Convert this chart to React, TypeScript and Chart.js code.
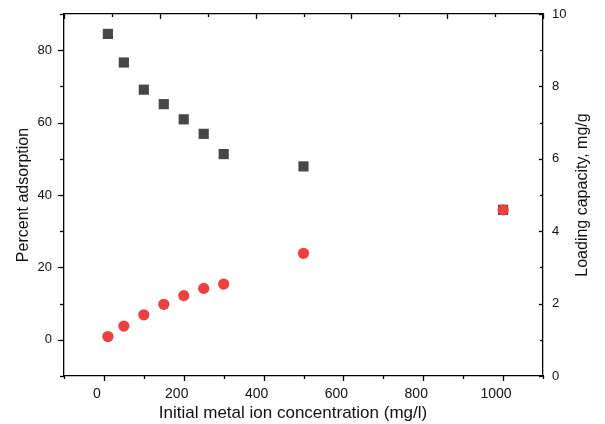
import React, { useEffect, useRef } from 'react';
import { Chart, registerables } from 'chart.js';

Chart.register(...registerables);

const concentration = [10, 50, 100, 150, 200, 250, 300, 500, 1000];
const percentAdsorption = [84.5, 76.6, 69.1, 65.1, 60.9, 56.9, 51.3, 47.9, 35.9];
const loadingCapacity = [1.09, 1.38, 1.69, 1.98, 2.22, 2.42, 2.54, 3.39, 4.59];

const xMajorTicks = [0, 200, 400, 600, 800, 1000];
const xMinorTicks = [-100, 100, 300, 500, 700, 900, 1100];
const yLeftMajorTicks = [0, 20, 40, 60, 80];
const yLeftMinorTicks = [-10, 10, 30, 50, 70, 90];
const yRightMajorTicks = [0, 2, 4, 6, 8, 10];
const yRightMinorTicks = [1, 3, 5, 7, 9];
const topMajorTicks = [0, 2, 4, 6, 8, 10];
const topMinorTicks = [1, 3, 5, 7, 9];

const xTitle = 'Initial metal ion concentration (mg/l)';
const yLeftTitle = 'Percent adsorption';
const yRightTitle = 'Loading capacity, mg/g';

const FONT = '"Liberation Sans", Arial, sans-serif';
const TEXT = '#111';

const ticksPlugin = {
  id: 'originTicks',
  afterDraw(chart: any) {
    const ctx = chart.ctx;
    const { left, right, top, bottom } = chart.chartArea;
    const sx = chart.scales.x;
    const sx2 = chart.scales.x2;
    const sy = chart.scales.y;
    const sy1 = chart.scales.y1;
    ctx.save();
    ctx.strokeStyle = '#000';
    ctx.lineWidth = 1.3;
    const vt = (scale: any, vals: number[], y0: number, len: number) => {
      vals.forEach((v) => {
        const px = Math.round(scale.getPixelForValue(v)) + 0.5;
        ctx.beginPath();
        ctx.moveTo(px, y0);
        ctx.lineTo(px, y0 + len);
        ctx.stroke();
      });
    };
    const ht = (scale: any, vals: number[], x0: number, len: number) => {
      vals.forEach((v) => {
        const py = Math.round(scale.getPixelForValue(v)) + 0.5;
        ctx.beginPath();
        ctx.moveTo(x0, py);
        ctx.lineTo(x0 + len, py);
        ctx.stroke();
      });
    };
    vt(sx, xMajorTicks, bottom, 5);
    vt(sx, xMinorTicks, bottom, 3);
    vt(sx2, topMajorTicks, top, 5);
    vt(sx2, topMinorTicks, top, 3);
    ht(sy, yLeftMajorTicks, left, -6);
    ht(sy, yLeftMinorTicks, left, -4);
    ht(sy1, yRightMajorTicks, right, -4);
    ht(sy1, yRightMinorTicks, right, -3);

    ctx.fillStyle = TEXT;
    ctx.textAlign = 'center';
    ctx.textBaseline = 'middle';
    ctx.font = `17px ${FONT}`;
    ctx.fillText(xTitle, 293, 413);

    ctx.translate(583, (top + bottom) / 2);
    ctx.rotate(-Math.PI / 2);
    ctx.font = `16px ${FONT}`;
    ctx.fillText(yRightTitle, 0, 0);
    ctx.restore();
  },
};

export default function App() {
  const ref = useRef<HTMLCanvasElement | null>(null);

  useEffect(() => {
    if (!ref.current) return;
    const border = { display: true, color: '#000', width: 1.3 };
    const noGrid = { display: false, drawTicks: false };
    const clearPad = (s: any) => {
      s.paddingTop = 0;
      s.paddingBottom = 0;
      s.paddingLeft = 0;
      s.paddingRight = 0;
    };
    const chart = new Chart(ref.current, {
      type: 'scatter',
      data: {
        datasets: [
          {
            label: yRightTitle,
            data: concentration.map((x, i) => ({ x, y: loadingCapacity[i] })),
            yAxisID: 'y1',
            xAxisID: 'x',
            pointStyle: 'circle',
            pointRadius: 5.6,
            pointBorderWidth: 0,
            backgroundColor: '#EF4040',
            borderColor: '#EF4040',
          },
          {
            label: yLeftTitle,
            data: concentration.map((x, i) => ({ x, y: percentAdsorption[i] })),
            yAxisID: 'y',
            xAxisID: 'x',
            pointStyle: 'rect',
            pointRadius: 7.2,
            pointBorderWidth: 0,
            backgroundColor: '#474747',
            borderColor: '#474747',
          },
        ],
      },
      options: {
        responsive: false,
        animation: false,
        devicePixelRatio: 1,
        layout: { padding: 0 },
        plugins: { legend: { display: false }, tooltip: { enabled: false } },
        scales: {
          x: {
            type: 'linear',
            position: 'bottom',
            min: -100,
            max: 1100,
            afterBuildTicks: (s: any) => {
              s.ticks = xMajorTicks.map((v) => ({ value: v }));
            },
            afterFit: (s: any) => {
              s.height = 48;
              clearPad(s);
            },
            grid: noGrid,
            border,
            ticks: {
              font: { family: FONT, size: 14 },
              color: TEXT,
              padding: 10,
              labelOffset: -7,
              maxRotation: 0,
              callback: (v: any) => String(v),
            },
          },
          x2: {
            type: 'linear',
            position: 'top',
            min: 0,
            max: 10,
            afterFit: (s: any) => {
              s.height = 14;
              clearPad(s);
            },
            grid: noGrid,
            border,
            ticks: { display: false },
          },
          y: {
            type: 'linear',
            position: 'left',
            min: -10,
            max: 90,
            afterBuildTicks: (s: any) => {
              s.ticks = yLeftMajorTicks.map((v) => ({ value: v }));
            },
            afterFit: (s: any) => {
              s.width = 64;
              clearPad(s);
            },
            grid: noGrid,
            border,
            ticks: { font: { family: FONT, size: 13 }, color: TEXT, padding: 12, callback: (v: any) => String(v) },
            title: {
              display: true,
              text: yLeftTitle,
              font: { family: FONT, size: 16 },
              color: TEXT,
              padding: { top: 13.5, bottom: 0 },
            },
          },
          y1: {
            type: 'linear',
            position: 'right',
            min: 0,
            max: 10,
            afterBuildTicks: (s: any) => {
              s.ticks = yRightMajorTicks.map((v) => ({ value: v }));
            },
            afterFit: (s: any) => {
              s.width = 62;
              clearPad(s);
            },
            grid: noGrid,
            border,
            ticks: { font: { family: FONT, size: 13 }, color: TEXT, padding: 9, callback: (v: any) => String(v) },
          },
        },
      },
      plugins: [ticksPlugin],
    } as any);
    return () => chart.destroy();
  }, []);

  return (
    <div style={{ position: 'absolute', left: 0, top: 0, width: 605, height: 424, background: '#fff' }}>
      <canvas ref={ref} width={605} height={424} style={{ display: 'block' }} />
    </div>
  );
}
